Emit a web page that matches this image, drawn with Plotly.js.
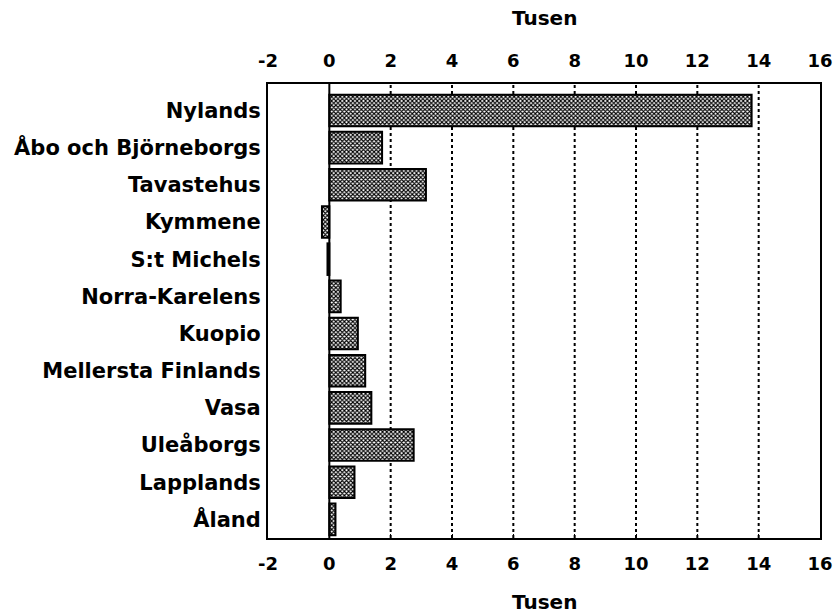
<!DOCTYPE html>
<html>
<head>
<meta charset="utf-8">
<script src="https://cdn.plot.ly/plotly-3.0.1.min.js"></script>
<style>html,body{margin:0;padding:0;background:#fff;}#chart{width:835px;height:613px;}</style>
</head>
<body>
<div id="chart"></div>
<script>
const categories = ["Nylands","Åbo och Björneborgs","Tavastehus","Kymmene","S:t Michels","Norra-Karelens","Kuopio","Mellersta Finlands","Vasa","Uleåborgs","Lapplands","Åland"];
const values = [13.77, 1.72, 3.15, -0.24, -0.06, 0.37, 0.93, 1.17, 1.37, 2.75, 0.82, 0.2];
const tickVals = [-2,0,2,4,6,8,10,12,14,16];
const axisTitle = "Tusen";

const wideFont = {family: "DejaVu Sans, sans-serif", color: "#000", weight: "bold"};
const tickFont = Object.assign({}, wideFont, {size: 18});

const gridShapes = tickVals.filter(v => v > 0 && v < 16).map(v => ({
  type: "line", xref: "x", yref: "paper", x0: v, x1: v, y0: 0, y1: 1,
  line: {color: "#000", width: 2, dash: "dot"}, layer: "below"
}));
gridShapes.push({type: "line", xref: "x", yref: "paper", x0: 0, x1: 0, y0: 0, y1: 1,
  line: {color: "#000", width: 2}, layer: "above"});

const trace = {
  type: "bar", orientation: "h", x: values, y: categories,
  width: 0.85,
  marker: {
    color: "#fff",
    line: {color: "#000", width: 2},
    pattern: {shape: "x", fgcolor: "#000", bgcolor: "#fff", size: 3, solidity: 0.6}
  },
  hoverinfo: "skip", showlegend: false
};
const ghost = {type: "scatter", x: [0], y: [categories[0]], xaxis: "x2", mode: "markers",
  marker: {opacity: 0}, showlegend: false, hoverinfo: "skip"};

const plotH = 613 - 84 - 75;

const layout = {
  width: 835, height: 613,
  margin: {l: 268, r: 15, t: 84, b: 75},
  paper_bgcolor: "#fff", plot_bgcolor: "#fff",
  font: {family: "DejaVu Sans, sans-serif", color: "#000"},
  xaxis: {
    range: [-2, 16], tickvals: tickVals, ticktext: tickVals.map(String),
    tickfont: tickFont, showgrid: false, zeroline: false,
    showline: true, linecolor: "#000", linewidth: 2, mirror: true,
    ticks: "inside", ticklen: 4, tickwidth: 1, tickcolor: "#000",
    ticklabelstandoff: 8
  },
  xaxis2: {
    overlaying: "x", side: "top", matches: "x",
    range: [-2, 16], tickvals: tickVals, ticktext: tickVals.map(String),
    tickfont: tickFont, showgrid: false, zeroline: false, showline: false,
    ticks: "", ticklabelstandoff: 12
  },
  yaxis: {
    autorange: "reversed", type: "category",
    tickfont: Object.assign({}, wideFont, {size: 21}),
    showgrid: false, zeroline: false, showline: true, linecolor: "#000", linewidth: 2, mirror: true,
    ticks: "", ticklabelstandoff: 1
  },
  shapes: gridShapes,
  annotations: [
    {text: axisTitle, xref: "x", yref: "paper", x: 7, y: 1 + 66 / plotH, yanchor: "middle",
      showarrow: false, font: Object.assign({}, wideFont, {size: 20})},
    {text: axisTitle, xref: "x", yref: "paper", x: 7, y: -64 / plotH, yanchor: "middle",
      showarrow: false, font: Object.assign({}, wideFont, {size: 20})}
  ]
};

Plotly.newPlot("chart", [trace, ghost], layout, {staticPlot: true, displayModeBar: false});
</script>
</body>
</html>
